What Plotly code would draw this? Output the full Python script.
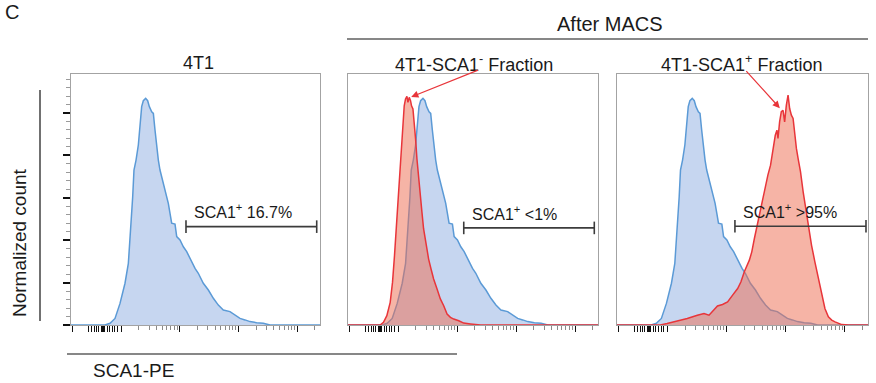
import math
import plotly.graph_objects as go

# ---------------- data (display units: decades on a biexponential-like axis) ----------------
# 4T1 (unsorted) histogram, shown in blue in every panel
blue_x = [2.148, 2.727, 2.813, 2.898, 2.983, 3.068, 3.125, 3.165, 3.199, 3.221,
          3.256, 3.295, 3.324, 3.352, 3.380, 3.420, 3.454, 3.483, 3.523, 3.551,
          3.579, 3.608, 3.636, 3.664, 3.693, 3.721, 3.767, 3.806, 3.835, 3.863,
          3.920, 3.949, 4.005, 4.062, 4.119, 4.204, 4.261, 4.317, 4.402, 4.488,
          4.573, 4.658, 4.743, 4.857, 4.942, 5.027, 5.112, 5.198, 5.311, 5.424,
          5.538, 6.390]
blue_y = [0, 0, 0.8, 3.1, 10.2, 19.7, 29.1, 44.8, 60.5, 73.1,
          77.8, 84.9, 96.7, 103, 105.8, 106.9, 105.8, 103, 100.6, 99.8,
          92, 84.1, 77.8, 73.1, 70, 66.8, 62.1, 57.4, 52.7, 48,
          47.6, 41.7, 40.1, 36.9, 34.6, 29.9, 26.7, 24.4, 19.7, 16.5,
          12.6, 9.4, 7.1, 6.3, 4.7, 3.1, 2.4, 1.6, 1.1, 0.8,
          0, 0]

# SCA1- fraction after MACS (red, panel 2)
neg_x = [2.148, 2.693, 2.750, 2.807, 2.864, 2.903, 2.937, 2.966, 2.995, 3.022,
         3.051, 3.073, 3.102, 3.124, 3.148, 3.165, 3.187, 3.209, 3.226, 3.250,
         3.272, 3.295, 3.318, 3.346, 3.375, 3.403, 3.431, 3.477, 3.516, 3.557,
         3.601, 3.659, 3.715, 3.772, 3.829, 3.886, 3.942, 4.027, 4.112, 4.226,
         4.397, 6.390]
neg_y = [0, 0, 1.3, 4.4, 10.7, 20.1, 32.7, 45.3, 57.9, 70.4,
         84.6, 95.6, 103.4, 106.6, 107.9, 105, 107.4, 105.8, 103.4, 101.9,
         95.6, 87.7, 78.3, 68.9, 61, 53.1, 45.3, 37.4, 31.1, 26.4,
         21.7, 17, 12.3, 9.1, 5.2, 3.6, 2.8, 2, 0.9, 0.5,
         0, 0]

# SCA1+ fraction after MACS (red, panel 3)
pos_x = [2.148, 2.881, 2.995, 3.165, 3.335, 3.506, 3.618, 3.703, 3.789, 3.846,
         3.931, 4.017, 4.102, 4.187, 4.243, 4.300, 4.385, 4.426, 4.470, 4.528,
         4.584, 4.640, 4.698, 4.743, 4.783, 4.823, 4.851, 4.869, 4.896, 4.925,
         4.954, 4.981, 5.010, 5.039, 5.066, 5.095, 5.124, 5.151, 5.180, 5.209,
         5.249, 5.294, 5.334, 5.380, 5.436, 5.492, 5.550, 5.606, 5.662, 5.720,
         5.777, 5.833, 5.947, 6.061, 6.390]
pos_y = [0, 0, 0.7, 1.8, 3.1, 4.6, 5.4, 4.6, 7, 9,
         9.7, 10.9, 14.1, 17.2, 20.4, 25.1, 30.6, 34.5, 40.8, 48.7,
         55, 62.8, 70.7, 75.4, 83.3, 89.5, 91.9, 88, 95.8, 100.6,
         101.3, 95.8, 103.7, 108.4, 102.1, 99, 97.4, 89.5, 83.3, 78.5,
         72.3, 62.8, 55, 47.1, 37.6, 29.8, 21.9, 14.1, 7.8, 3.9,
         2.3, 1.5, 0.2, 0, 0]

panel_titles = ["4T1", "4T1-SCA1<sup>-</sup> Fraction", "4T1-SCA1<sup>+</sup> Fraction"]
gate_labels = ["SCA1<sup>+</sup> 16.7%", "SCA1<sup>+</sup> &lt;1%", "SCA1<sup>+</sup> &gt;95%"]
gate_lo = [4.107, 4.112, 4.141]
gate_hi = [6.334, 6.327, 6.356]
gate_y = [46.4, 45.8, 46.6]

# arrows: (tail x, tail y) -> (tip x, tip y), panels 2 and 3
arrow_tail_x = [4.38, 4.31]
arrow_tail_y = [120.5, 120.5]
arrow_tip_x = [3.22, 4.90]
arrow_tip_y = [107.6, 102.3]

# axis ticks
x_black_ticks = [2.165, 2.438, 2.494, 2.540, 2.579, 2.620, 2.664, 2.685, 2.702, 2.719,
                 2.767, 2.807, 2.847, 2.893, 2.937, 3, 4, 5, 6]
decades = [3, 4, 5]
log_mult = [2, 3, 4, 5, 6, 7, 8, 9]
y_major = [0, 20, 40, 60, 80, 100]
y_minor = [v for v in range(4, 118, 4) if v % 20 != 0]

XMIN, XMAX = 2.148, 6.39
YMIN, YMAX = 0, 118.4

x_gray_ticks = [d + math.log10(m) for d in decades for m in log_mult] + [6 + math.log10(2)]

# ---------------- styling ----------------
W, H = 876, 383
FONT = "Liberation Sans, Arial, Helvetica, sans-serif"
TXT = "#1a1a1a"
BLUE_LINE = "#5b9ad6"
BLUE_FILL = "rgba(198,214,240,1)"
RED_LINE = "#e8353a"
RED_FILL = "rgba(238,112,84,0.52)"
BOX = "#a3a3a3"


def px(x):
    return x / W


def py(y):
    return 1 - y / H


domains_x = [[px(71), px(320)], [px(348), px(598)], [px(617), px(868)]]
domain_y = [py(325), py(74)]

fig = go.Figure()

for i in range(3):
    xa = "x" if i == 0 else f"x{i+1}"
    ya = "y" if i == 0 else f"y{i+1}"
    fig.add_trace(go.Scatter(x=blue_x, y=blue_y, xaxis=xa, yaxis=ya, mode="lines",
                             line=dict(color=BLUE_LINE, width=1.5), fill="tozeroy",
                             fillcolor=BLUE_FILL, hoverinfo="skip"))
    if i == 1:
        fig.add_trace(go.Scatter(x=neg_x, y=neg_y, xaxis=xa, yaxis=ya, mode="lines",
                                 line=dict(color=RED_LINE, width=1.5), fill="tozeroy",
                                 fillcolor=RED_FILL, hoverinfo="skip"))
    if i == 2:
        fig.add_trace(go.Scatter(x=pos_x, y=pos_y, xaxis=xa, yaxis=ya, mode="lines",
                                 line=dict(color=RED_LINE, width=1.5), fill="tozeroy",
                                 fillcolor=RED_FILL, hoverinfo="skip"))
    # gate bar
    fig.add_trace(go.Scatter(x=[gate_lo[i], gate_hi[i]], y=[gate_y[i], gate_y[i]],
                             xaxis=xa, yaxis=ya, mode="lines+markers",
                             line=dict(color="#3c3c3c", width=1.6),
                             marker=dict(symbol="line-ns-open", size=9,
                                         line=dict(color="#3c3c3c", width=1.6)),
                             hoverinfo="skip", cliponaxis=False))

layout = dict(width=W, height=H, margin=dict(l=0, r=0, t=0, b=0),
              paper_bgcolor="white", plot_bgcolor="white", showlegend=False,
              font=dict(family=FONT, color=TXT))

for i in range(3):
    xk = "xaxis" if i == 0 else f"xaxis{i+1}"
    yk = "yaxis" if i == 0 else f"yaxis{i+1}"
    anchor_y = "y" if i == 0 else f"y{i+1}"
    anchor_x = "x" if i == 0 else f"x{i+1}"
    layout[xk] = dict(domain=domains_x[i], anchor=anchor_y, range=[XMIN, XMAX],
                      showline=True, linecolor=BOX, linewidth=1, mirror=True,
                      showgrid=False, zeroline=False, showticklabels=False,
                      ticks="outside", tickmode="array", tickvals=x_black_ticks,
                      ticklen=6, tickwidth=1, tickcolor="#111",
                      minor=dict(tickmode="array", tickvals=x_gray_ticks, ticks="outside",
                                 ticklen=4, tickwidth=1, tickcolor="#8a8a8a", showgrid=False))
    ydict = dict(domain=domain_y, anchor=anchor_x, range=[YMIN, YMAX],
                 showline=True, linecolor=BOX, linewidth=1, mirror=True,
                 showgrid=False, zeroline=False, showticklabels=False)
    if i == 0:
        ydict.update(ticks="outside", tickmode="array", tickvals=y_major, ticklen=7,
                     tickwidth=1.6, tickcolor="#111",
                     minor=dict(tickmode="array", tickvals=y_minor, ticks="outside",
                                ticklen=4, tickwidth=1, tickcolor="#9a9a9a", showgrid=False))
    else:
        ydict.update(ticks="")
    layout[yk] = ydict

fig.update_layout(**layout)

ann = []
title_cx = [198, 474, 741]
for i in range(3):
    ann.append(dict(text=panel_titles[i], x=px(title_cx[i]), y=py(63), xref="paper", yref="paper",
                    showarrow=False, xanchor="center", yanchor="middle",
                    font=dict(size=18, family=FONT, color=TXT)))
    xa = "x" if i == 0 else f"x{i+1}"
    ya = "y" if i == 0 else f"y{i+1}"
    ann.append(dict(text=gate_labels[i], x=gate_lo[i] + 0.11, y=gate_y[i] + 1.6, xref=xa, yref=ya,
                    showarrow=False, xanchor="left", yanchor="bottom",
                    font=dict(size=16, family=FONT, color=TXT)))

for j in range(2):
    xa = f"x{j+2}"
    ya = f"y{j+2}"
    ann.append(dict(text="", x=arrow_tip_x[j], y=arrow_tip_y[j], xref=xa, yref=ya,
                    ax=arrow_tail_x[j], ay=arrow_tail_y[j], axref=xa, ayref=ya,
                    showarrow=True, arrowhead=2, arrowsize=1.2, arrowwidth=1.2,
                    arrowcolor=RED_LINE, standoff=0, startstandoff=0))

ann.append(dict(text="C", x=px(3), y=py(12), xref="paper", yref="paper", showarrow=False,
                xanchor="left", yanchor="middle", font=dict(size=20, family=FONT, color=TXT)))
ann.append(dict(text="After MACS", x=px(610), y=py(24), xref="paper", yref="paper", showarrow=False,
                xanchor="center", yanchor="middle", font=dict(size=20, family=FONT, color=TXT)))
ann.append(dict(text="Normalized count", x=px(20), y=py(243), xref="paper", yref="paper",
                showarrow=False, textangle=-90, xanchor="center", yanchor="middle",
                font=dict(size=19, family=FONT, color=TXT)))
ann.append(dict(text="SCA1-PE", x=px(91), y=py(370), xref="paper", yref="paper", showarrow=False,
                xanchor="left", yanchor="middle", font=dict(size=19, family=FONT, color=TXT)))
fig.update_layout(annotations=ann)

shapes = [
    dict(type="line", xref="paper", yref="paper", x0=px(347), x1=px(868), y0=py(39), y1=py(39),
         line=dict(color="#111", width=1.2)),
    dict(type="line", xref="paper", yref="paper", x0=px(40), x1=px(40), y0=py(90), y1=py(321),
         line=dict(color="#111", width=1.2)),
    dict(type="line", xref="paper", yref="paper", x0=px(67), x1=px(457), y0=py(354), y1=py(354),
         line=dict(color="#111", width=1.2)),
]
fig.update_layout(shapes=shapes)

fig.write_html("out.html")
